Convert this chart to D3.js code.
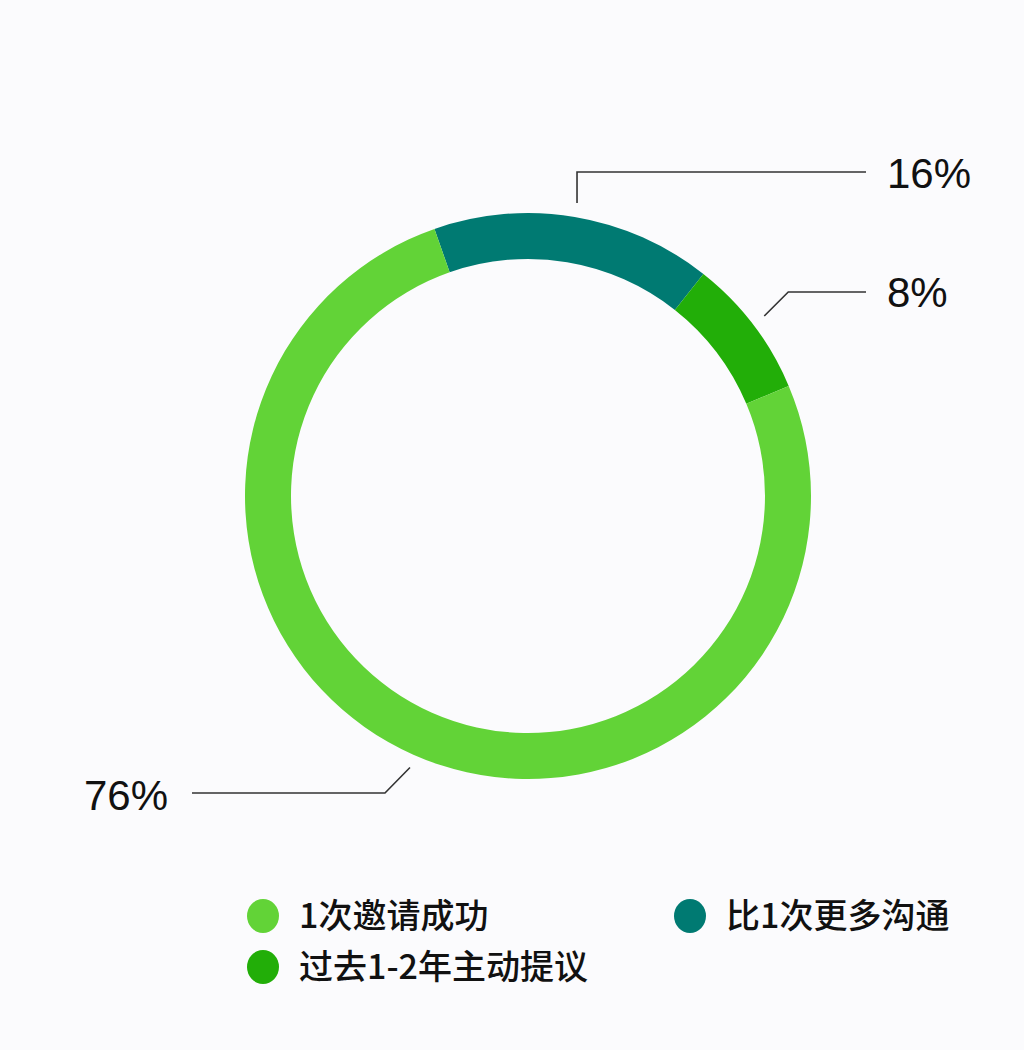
<!DOCTYPE html>
<html>
<head>
<meta charset="utf-8">
<script src="https://cdn.jsdelivr.net/npm/d3@7"></script>
<style>
	body { margin: 0; background: #fbfbfd; }
	svg { display: block; }
	text { font-family: "Noto Sans CJK SC", "Liberation Sans", sans-serif; fill: #111; }
	.pct { font-family: "Liberation Sans", Arial, sans-serif; font-size: 42px; }
	.legendText { font-size: 34px; font-weight: 500; }
	.leader { fill: none; stroke: #333; stroke-width: 1.6; }
</style>
</head>
<body>
<svg id="chart" width="1024" height="1050"></svg>
<script>
// drawing order goes clockwise from the teal slice
const categories = ["比1次更多沟通", "过去1-2年主动提议", "1次邀请成功"]
const values = [16, 8, 76]
const colors = ["#007a72", "#22ae08", "#62d337"]
const pctLabels = ["16%", "8%", "76%"]
// legend reads in this order (left col, right col, then second row)
const legendOrder = ["1次邀请成功", "比1次更多沟通", "过去1-2年主动提议"]

const svg = d3.select("#chart")
const cx = 528, cy = 496
const outerR = 283, innerR = 237
const startOffset = -19.3 * Math.PI / 180

const color = d3.scaleOrdinal().domain(categories).range(colors)

const pie = d3.pie().sort(null).value(d => d.value)
	.startAngle(startOffset).endAngle(startOffset + 2 * Math.PI)
const arc = d3.arc().innerRadius(innerR).outerRadius(outerR)

const slices = pie(categories.map((c, i) => ({name: c, value: values[i], label: pctLabels[i]})))

const ring = svg.append("g").attr("transform", `translate(${cx},${cy})`)
ring.selectAll("path.slice")
	.data(slices)
	.join("path")
		.classed("slice", true)
		.attr("d", arc)
		.attr("fill", d => color(d.data.name))

// leader lines: each one starts a bit outside the ring and bends out to the label
const pt = (angle, r) => [cx + Math.sin(angle) * r, cy - Math.cos(angle) * r]
const mid = s => (s.startAngle + s.endAngle) / 2

const leaders = [
	// teal: straight up then right
	s => {
		let [x0, y0] = pt(mid(s), outerR + 14)
		return {path: `M ${x0} ${y0} L ${x0} 172 L 866 172`, tx: 887, ty: 188, anchor: "start"}
	},
	// dark green: diagonal then right
	s => {
		let [x0, y0] = pt(mid(s), outerR + 14)
		return {path: `M ${x0} ${y0} L ${x0 + 24} 292 L 866 292`, tx: 887, ty: 307, anchor: "start"}
	},
	// light green: not at the middle of the slice, sits lower-left
	s => {
		let [x0, y0] = pt(203.5 * Math.PI / 180, outerR + 13)
		return {path: `M ${x0} ${y0} L ${x0 - 25} 793 L 192 793`, tx: 168, ty: 810, anchor: "end"}
	},
]

const labelData = slices.map((s, i) => ({slice: s, ...leaders[i](s)}))

svg.append("g").selectAll("path")
	.data(labelData)
	.join("path")
		.classed("leader", true)
		.attr("d", d => d.path)

svg.append("g").selectAll("text")
	.data(labelData)
	.join("text")
		.classed("pct", true)
		.attr("x", d => d.tx)
		.attr("y", d => d.ty)
		.attr("text-anchor", d => d.anchor)
		.text(d => d.slice.data.label)

// legend
const legendPos = [[263, 916], [690, 916], [263, 967]]
const legend = svg.append("g").selectAll("g")
	.data(legendOrder)
	.join("g")
		.attr("transform", (d, i) => `translate(${legendPos[i][0]},${legendPos[i][1]})`)
legend.append("ellipse")
	.attr("rx", 16).attr("ry", 17)
	.attr("fill", d => color(d))
legend.append("text")
	.classed("legendText", true)
	.attr("x", 36)
	.attr("y", 12)
	.text(d => d)
</script>
</body>
</html>
